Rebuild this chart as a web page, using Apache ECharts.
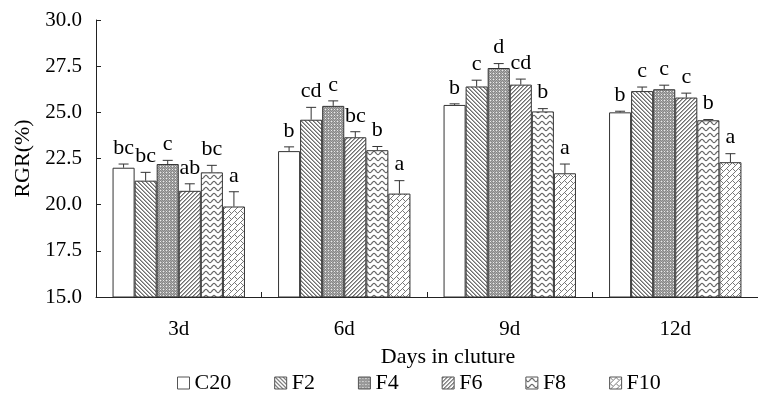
<!DOCTYPE html>
<html>
<head>
<meta charset="utf-8">
<script src="https://cdn.jsdelivr.net/npm/echarts@6/dist/echarts.min.js"></script>
<style>
html,body{margin:0;padding:0;background:#fff;}
#chart{width:758px;height:394px;}
</style>
</head>
<body>
<div id="chart"></div>
<script>
// ---- data ----
var categories = ['3d', '6d', '9d', '12d'];
var seriesNames = ['C20', 'F2', 'F4', 'F6', 'F8', 'F10'];
var C20 = [22.0, 22.9, 25.4, 25.0];
var F2  = [21.3, 24.6, 26.4, 26.15];
var F4  = [22.2, 25.35, 27.4, 26.25];
var F6  = [20.75, 23.65, 26.5, 25.8];
var F8  = [21.75, 22.95, 25.05, 24.57];
var F10 = [19.9, 20.6, 21.7, 22.3];
var C20err = [0.2, 0.23, 0.06, 0.06];
var F2err  = [0.45, 0.67, 0.34, 0.22];
var F4err  = [0.2, 0.27, 0.24, 0.22];
var F6err  = [0.38, 0.3, 0.3, 0.24];
var F8err  = [0.38, 0.2, 0.15, 0.04];
var F10err = [0.8, 0.7, 0.5, 0.46];
var C20sig = ['bc', 'b', 'b', 'b'];
var F2sig  = ['bc', 'cd', 'c', 'c'];
var F4sig  = ['c', 'c', 'd', 'c'];
var F6sig  = ['ab', 'bc', 'cd', 'c'];
var F8sig  = ['bc', 'b', 'b', 'b'];
var F10sig = ['a', 'a', 'a', 'a'];
var yTicks = [15.0, 17.5, 20.0, 22.5, 25.0, 27.5, 30.0];

var means = [C20, F2, F4, F6, F8, F10];
var errs = [C20err, F2err, F4err, F6err, F8err, F10err];
var sigs = [C20sig, F2sig, F4sig, F6sig, F8sig, F10sig];

var FONT = "'Liberation Serif','Times New Roman',serif";

// ---- pattern fills ----
function pixelPattern(w, h, fn) {
  var c = document.createElement('canvas');
  c.width = w; c.height = h;
  var ctx = c.getContext('2d');
  var img = ctx.createImageData(w, h);
  for (var y = 0; y < h; y++) {
    for (var x = 0; x < w; x++) {
      var v = fn(x, y);
      var i = (y * w + x) * 4;
      img.data[i] = v; img.data[i + 1] = v; img.data[i + 2] = v; img.data[i + 3] = 255;
    }
  }
  ctx.putImageData(img, 0, 0);
  return c;
}
function mod(a, n) { return ((a % n) + n) % n; }
var patterns = [
  null,
  pixelPattern(8, 8, function (x, y) { var m = mod(x - y, 4); return m === 0 ? 110 : (m === 1 ? 170 : 255); }),
  pixelPattern(6, 6, function (x, y) { return (mod(x, 3) === 1 && mod(y, 3) === 1) ? 235 : (mod(x + y, 2) === 0 ? 135 : 170); }),
  pixelPattern(8, 8, function (x, y) { var m = mod(x + y, 4); return m === 0 ? 110 : (m === 1 ? 170 : 255); }),
  (function () {
    var c = document.createElement('canvas'); c.width = 8; c.height = 6;
    var ctx = c.getContext('2d');
    ctx.fillStyle = '#fff'; ctx.fillRect(0, 0, 8, 6);
    ctx.strokeStyle = '#666'; ctx.lineWidth = 1.2;
    for (var k = -1; k <= 1; k++) {
      ctx.beginPath();
      for (var x = -1; x <= 9; x += 0.5) {
        var y = 3 + k * 6 + 1.6 * Math.sin(2 * Math.PI * x / 8);
        if (x === -1) ctx.moveTo(x, y); else ctx.lineTo(x, y);
      }
      ctx.stroke();
    }
    return c;
  })(),
  pixelPattern(12, 12, function (x, y) {
    var u = x + y, v = x - y;
    var row = Math.floor(u / 6);
    if (mod(u, 6) === 0) return 120;
    var j = mod(v + (mod(row, 2) ? 6 : 0), 12);
    if (j === 0) return 120;
    return 255;
  })
];
function fillFor(i) {
  if (!patterns[i]) return '#ffffff';
  return { image: patterns[i], repeat: 'repeat' };
}

// ---- series ----
var series = [];
seriesNames.forEach(function (name, i) {
  series.push({
    name: name,
    type: 'bar',
    data: means[i],
    barGap: '0%',
    barCategoryGap: '20%',
    itemStyle: { color: fillFor(i), borderColor: '#333', borderWidth: 1 },
    emphasis: { disabled: true },
    animation: false
  });
});

var errData = [];
for (var s = 0; s < seriesNames.length; s++) {
  for (var k = 0; k < categories.length; k++) {
    errData.push([k, means[s][k], errs[s][k], s, sigs[s][k]]);
  }
}
series.push({
  type: 'custom',
  name: 'err',
  data: errData,
  encode: { x: 0, y: 1 },
  z: 10,
  silent: true,
  animation: false,
  renderItem: function (params, api) {
    var cat = api.value(0), mean = api.value(1), err = api.value(2), si = api.value(3);
    var label = errData[params.dataIndex][4];
    var band = api.size([1, 0])[0];
    var groupW = band * 0.8;
    var bw = groupW / seriesNames.length;
    var base = api.coord([cat, mean]);
    var x = base[0] - groupW / 2 + (si + 0.5) * bw;
    var yTop = base[1];
    var yErr = api.coord([cat, mean + err])[1];
    return {
      type: 'group',
      children: [
        { type: 'line', shape: { x1: x, y1: yTop, x2: x, y2: yErr }, style: { stroke: '#333', lineWidth: 1 } },
        { type: 'line', shape: { x1: x - 5, y1: yErr, x2: x + 5, y2: yErr }, style: { stroke: '#333', lineWidth: 1 } },
        { type: 'text', x: x, y: yErr - 5, style: { text: label, font: '22px ' + FONT, fill: '#000', align: 'center', verticalAlign: 'bottom', textAlign: 'center', textVerticalAlign: 'bottom' } }
      ]
    };
  }
});

var chart = echarts.init(document.getElementById('chart'), null, { renderer: 'canvas' });
chart.setOption({
  animation: false,
  backgroundColor: '#fff',
  grid: { left: 96, right: -5, top: 20, bottom: 97, containLabel: false },
  legend: {
    data: seriesNames,
    left: 177,
    top: 372,
    padding: 0,
    itemWidth: 12,
    itemHeight: 12,
    itemGap: 43,
    icon: 'rect',
    selectedMode: false,
    textStyle: { fontFamily: FONT, fontSize: 22, color: '#000' },
    itemStyle: { borderColor: '#555', borderWidth: 1 }
  },
  xAxis: {
    type: 'category',
    data: categories,
    name: 'Days in cluture',
    nameLocation: 'middle',
    nameGap: 49,
    nameTextStyle: { fontFamily: FONT, fontSize: 22, color: '#000', padding: [0, 0, 0, 42] },
    axisLine: { lineStyle: { color: '#222', width: 1 } },
    axisTick: { show: true, inside: true, length: 5, lineStyle: { color: '#222' } },
    axisLabel: { fontFamily: FONT, fontSize: 21, color: '#000', margin: 22 },
    splitLine: { show: false }
  },
  yAxis: {
    type: 'value',
    min: yTicks[0],
    max: yTicks[yTicks.length - 1],
    interval: 2.5,
    name: 'RGR(%)',
    nameLocation: 'middle',
    nameGap: 62,
    nameRotate: 90,
    nameTextStyle: { fontFamily: FONT, fontSize: 22, color: '#000' },
    axisLine: { show: true, lineStyle: { color: '#222', width: 1 } },
    axisTick: { show: true, inside: true, length: 5, lineStyle: { color: '#222' } },
    axisLabel: { fontFamily: FONT, fontSize: 21, color: '#000', margin: 14, formatter: function (v) { return v.toFixed(1); } },
    splitLine: { show: false }
  },
  series: series
});
</script>
</body>
</html>
